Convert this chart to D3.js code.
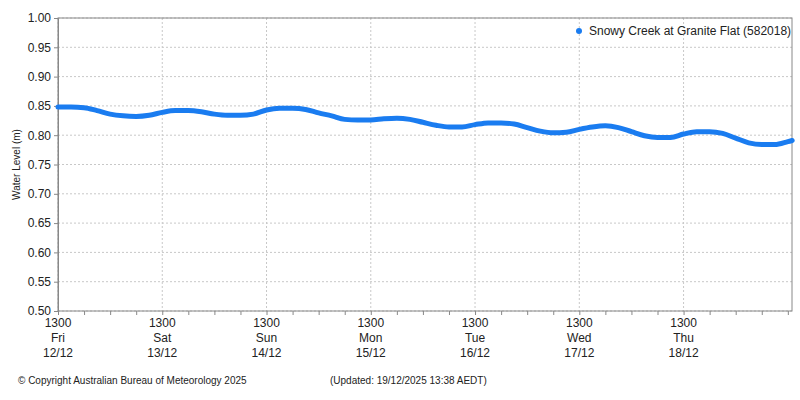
<!DOCTYPE html><html><head><meta charset="utf-8"><script src="https://cdn.jsdelivr.net/npm/d3@7"></script>
<style>body{margin:0;background:#fff}text{font-family:"Liberation Sans",sans-serif}</style></head><body><svg id="c" width="800" height="400"></svg><script>
const seriesName="Snowy Creek at Granite Flat (582018)";
const startTime=new Date(2025,11,12,13,0);
const stepHours=3;
const levels=[0.848,0.848,0.847,0.842,0.836,0.833,0.832,0.834,0.839,0.842,0.842,0.840,0.836,0.834,0.834,0.836,0.843,0.846,0.846,0.844,0.838,0.833,0.827,0.826,0.826,0.828,0.829,0.827,0.822,0.817,0.814,0.814,0.818,0.821,0.821,0.819,0.813,0.807,0.804,0.805,0.810,0.814,0.816,0.813,0.806,0.799,0.796,0.796,0.802,0.806,0.806,0.803,0.795,0.787,0.784,0.784,0.789];
const endTime=new Date(2025,11,19,14,0);const endLevel=0.791;
const dayNames=["Fri","Sat","Sun","Mon","Tue","Wed","Thu"];
const dayDates=["12/12","13/12","14/12","15/12","16/12","17/12","18/12"];
const yTicks=[0.50,0.55,0.60,0.65,0.70,0.75,0.80,0.85,0.90,0.95,1.00];
const data=levels.map((v,i)=>({t:new Date(+startTime+i*stepHours*3600e3),v})).concat([{t:endTime,v:endLevel}]);
const svg=d3.select("#c");
const L=58,R=792,T=18,B=311;
const x=d3.scaleTime().domain([startTime,new Date(+startTime+7.04*86400e3)]).range([L,R]);
const y=d3.scaleLinear().domain([0.5,1]).range([B,T]);
const days=dayNames.map((d,i)=>new Date(+startTime+i*86400e3));
const g=svg.append("g");
g.selectAll(".hg").data(yTicks).join("line").attr("x1",L).attr("x2",R).attr("y1",d=>y(d)).attr("y2",d=>y(d)).attr("stroke","#c8c8c8").attr("stroke-dasharray","2,2");
g.selectAll(".vg").data(days).join("line").attr("x1",d=>x(d)).attr("x2",d=>x(d)).attr("y1",T).attr("y2",B).attr("stroke","#c8c8c8").attr("stroke-dasharray","2,2");
svg.append("rect").attr("x",L).attr("y",T).attr("width",R-L).attr("height",B-T).attr("fill","none").attr("stroke","#888");
const ya=svg.append("g").attr("transform",`translate(${L},0)`).call(d3.axisLeft(y).tickValues(yTicks).tickFormat(d3.format(".2f")).tickSize(4));
ya.select(".domain").attr("stroke","#888");ya.selectAll("line").attr("stroke","#888");ya.selectAll("text").attr("font-size",12).attr("fill","#222");
const minor=d3.range(0,29).map(i=>new Date(+startTime+i*6*3600e3)).filter(d=>x(d)<=R);
const xa=svg.append("g").attr("transform",`translate(0,${B})`).call(d3.axisBottom(x).tickValues(minor).tickFormat("").tickSize(4));
xa.select(".domain").remove();xa.selectAll("line").attr("stroke","#888");
const lab=svg.append("g").selectAll("text").data(days).join("text").attr("x",d=>x(d)).attr("text-anchor","middle").attr("font-size",12).attr("fill","#222");
lab.append("tspan").attr("x",d=>x(d)).attr("y",B+16).text("1300");
lab.append("tspan").attr("x",d=>x(d)).attr("y",B+31).text((d,i)=>dayNames[i]);
lab.append("tspan").attr("x",d=>x(d)).attr("y",B+46).text((d,i)=>dayDates[i]);
svg.append("text").attr("transform",`translate(20,${(T+B)/2}) rotate(-90)`).attr("text-anchor","middle").attr("font-size",10).attr("font-family","DejaVu Sans Mono").attr("fill","#222").text("Water Level (m)");
svg.append("path").datum(data).attr("d",d3.line().x(d=>x(d.t)).y(d=>y(d.v)).curve(d3.curveMonotoneX)).attr("fill","none").attr("stroke","#1a7cf0").attr("stroke-width",5).attr("stroke-linecap","round");
svg.append("circle").attr("cx",579).attr("cy",31).attr("r",3).attr("fill","#1a7cf0");
svg.append("text").attr("x",589).attr("y",35).attr("font-size",12).attr("fill","#222").text(seriesName);
svg.append("text").attr("x",18).attr("y",384).attr("font-size",10).attr("fill","#222").text("© Copyright Australian Bureau of Meteorology 2025");
svg.append("text").attr("x",330).attr("y",384).attr("font-size",10).attr("fill","#222").text("(Updated: 19/12/2025 13:38 AEDT)");
</script></body></html>
